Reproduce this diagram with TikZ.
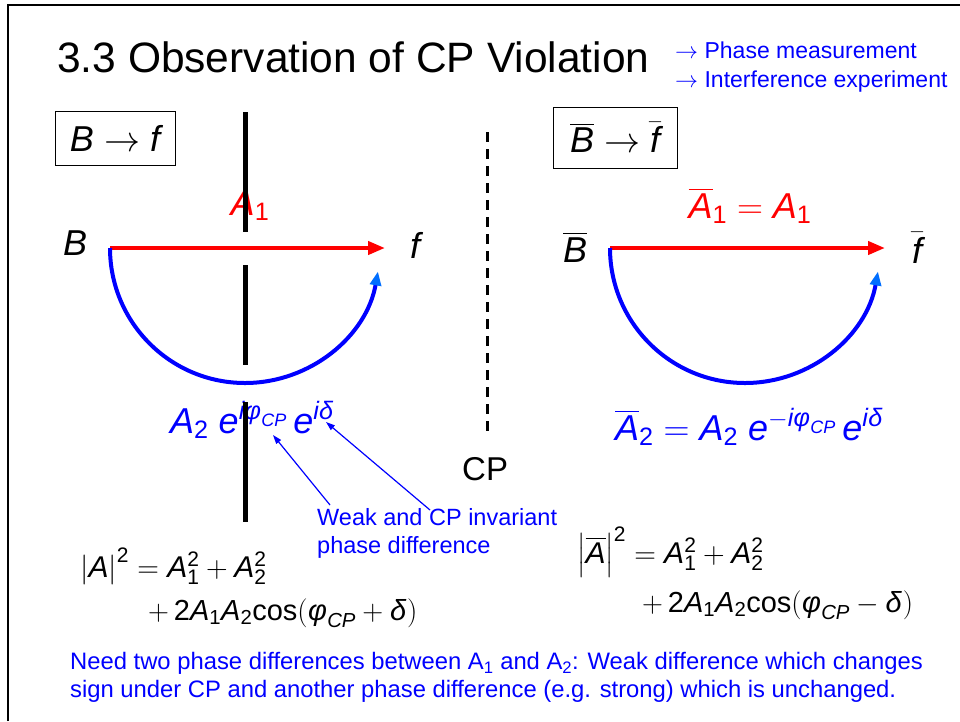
\RequirePackage{fix-cm}
\documentclass[tikz,border=0pt]{standalone}
\usepackage{amsmath}
\usepackage{mathspec}
\setmainfont{Liberation Sans}
\setmathsfont(Digits,Latin,Greek){Liberation Sans}
\usetikzlibrary{arrows.meta}
\definecolor{red}{RGB}{255,0,0}
\definecolor{blue}{RGB}{0,0,255}
\definecolor{tipblue}{RGB}{0,110,255}

\tikzset{
  amp/.style={line width=4pt, red, -{Triangle[length=17pt,width=13pt]}},
  loopamp/.style={line width=4pt, blue, -{Triangle[length=14pt,width=11pt,color=tipblue]}},
  barrier/.style={line width=5pt, black},
  hint/.style={blue, line width=1.2pt, -{Triangle[length=9pt,width=6pt]}},
  procbox/.style={draw, line width=1pt, inner sep=0pt},
  huge/.style={font=\fontsize{36}{42}\selectfont},
  lbl/.style={inner sep=0pt, anchor=base west},
}

\begin{document}
\begin{tikzpicture}[x=1pt, y=1pt]
  \useasboundingbox (0,0) rectangle (960,-721);
  % slide frame
  \draw[line width=2pt] (8,-721) -- (8,-5) -- (960,-5);

  % heading
  \node[lbl, font=\fontsize{42.5}{50}\selectfont] (title) at (57,-72) {3.3 Observation of CP Violation};
  \node[lbl, blue, font=\fontsize{23}{27}\selectfont] (goal1) at (675,-58) {$\rightarrow$ Phase measurement};
  \node[lbl, blue, font=\fontsize{23}{27}\selectfont] (goal2) at (675,-87) {$\rightarrow$ Interference experiment};

  % B -> f
  \node[procbox, huge, minimum width=120pt, minimum height=54pt] (boxL) at (115,-138) {$B\rightarrow f$};
  \node[lbl, huge] (B) at (63,-255) {$B$};
  \node[lbl, huge] (f) at (410,-258) {$f$};
  \node[inner sep=0pt, anchor=base, huge, red] (A1) at (250,-215) {$A_1$};
  \coordinate (startL) at (110,-248);
  \coordinate (endL) at (385,-248);
  \draw[amp] (startL) -- (endL);
  \draw[loopamp] (startL) arc[start angle=180, end angle=350, radius=135];
  \node[lbl, blue, font=\fontsize{36}{42}\selectfont] (A2) at (170,-433) {$A_2\;e^{i\phi_{CP}}\,e^{i\delta}$};

  % Bbar -> fbar
  \node[procbox, huge, minimum width=124pt, minimum height=61pt] (boxR) at (615,-137.5) {$\overline{B}\rightarrow \bar{f}$};
  \node[lbl, huge] (Bbar) at (563,-262) {$\overline{B}$};
  \node[lbl, huge] (fbar) at (912,-263) {$\bar{f}$};
  \node[inner sep=0pt, anchor=base, huge, red] (A1bar) at (750,-218) {$\overline{A}_1 = A_1$};
  \coordinate (startR) at (610,-248);
  \coordinate (endR) at (885,-248);
  \draw[amp] (startR) -- (endR);
  \draw[loopamp] (startR) arc[start angle=180, end angle=350, radius=135];
  \node[lbl, blue, font=\fontsize{36}{42}\selectfont] (A2bar) at (615,-440) {$\overline{A}_2 = A_2\;e^{-i\phi_{CP}}\,e^{i\delta}$};

  % CP mirror
  \draw[line width=3pt, dash pattern=on 10pt off 7pt] (487,-132) -- (487,-433);
  \node[lbl, font=\fontsize{33}{38}\selectfont] (cp) at (462,-480) {CP};

  % phase hints
  \node[inner sep=0pt, anchor=north west, align=left, blue, font=\fontsize{23.5}{28}\selectfont] (weak) at (317,-508) {Weak and CP invariant\\phase difference};
  \coordinate (weakA) at (330,-505);
  \coordinate (weakB) at (430,-510);
  \coordinate (phiCP) at (273,-435);
  \coordinate (delta) at (326,-422);
  \draw[hint] (weakA) -- (phiCP);
  \draw[hint] (weakB) -- (delta);

  % rates
  \node[lbl, font=\fontsize{30}{36}\selectfont] (rateL) at (80,-577) {$\left|A\right|^2 = A_1^2 + A_2^2$};
  \node[lbl, font=\fontsize{29}{36}\selectfont] (rateL2) at (148,-620) {$+\,2A_1A_2\text{cos}(\phi_{CP}+\delta)$};
  \node[lbl, font=\fontsize{30}{36}\selectfont] (rateR) at (577,-563) {$\left|\overline{A}\right|^2 = A_1^2 + A_2^2$};
  \node[lbl, font=\fontsize{29}{36}\selectfont] (rateR2) at (642,-612) {$+\,2A_1A_2\text{cos}(\phi_{CP}-\delta)$};

  % conclusion
  \node[inner sep=0pt, anchor=north west, align=left, blue, font=\fontsize{23.8}{28}\selectfont] (need) at (70,-652) {Need two phase differences between A\textsubscript{1} and A\textsubscript{2}: Weak difference which changes\\sign under CP and another phase difference (e.g. strong) which is unchanged.};

  % cut between the two paths
  \draw[barrier] (245,-112) -- (245,-232);
  \draw[barrier] (245,-265) -- (245,-365);
  \draw[barrier] (245,-402) -- (245,-522);
\end{tikzpicture}
\end{document}
